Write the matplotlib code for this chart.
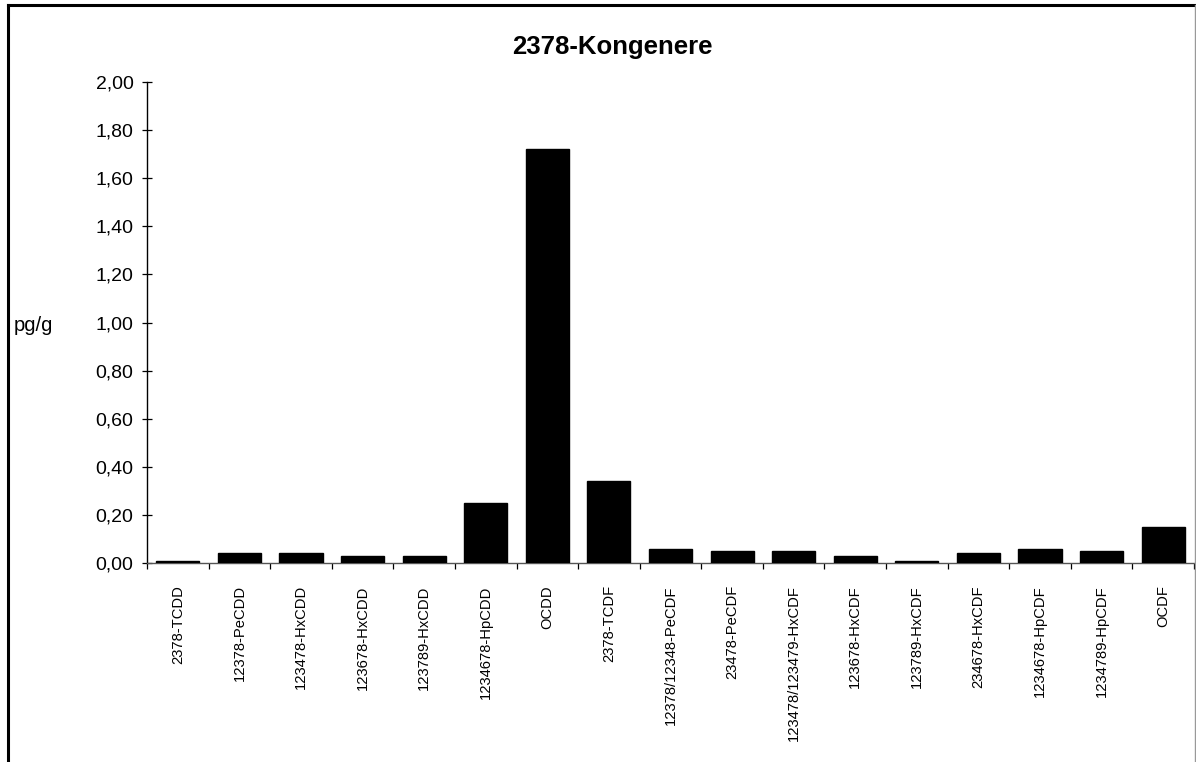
import matplotlib
matplotlib.use("Agg")
import matplotlib.pyplot as plt
from matplotlib.lines import Line2D
import numpy as np

plt.rcParams['font.family'] = ['Liberation Sans', 'DejaVu Sans']

categories = ["2378-TCDD", "12378-PeCDD", "123478-HxCDD", "123678-HxCDD",
              "123789-HxCDD", "1234678-HpCDD", "OCDD", "2378-TCDF",
              "12378/12348-PeCDF", "23478-PeCDF", "123478/123479-HxCDF",
              "123678-HxCDF", "123789-HxCDF", "234678-HxCDF",
              "1234678-HpCDF", "1234789-HpCDF", "OCDF"]
values = [0.01, 0.04, 0.04, 0.03, 0.03, 0.25, 1.72, 0.34,
          0.06, 0.05, 0.05, 0.03, 0.01, 0.04, 0.06, 0.05, 0.15]
yticks = [0.0, 0.2, 0.4, 0.6, 0.8, 1.0, 1.2, 1.4, 1.6, 1.8, 2.0]
ytick_labels = ["0,00", "0,20", "0,40", "0,60", "0,80", "1,00",
                "1,20", "1,40", "1,60", "1,80", "2,00"]
title = "2378-Kongenere"
ylabel = "pg/g"

W, H = 1196, 762
fig = plt.figure(figsize=(W / 100, H / 100), dpi=100)
ax = fig.add_axes([147 / W, 1 - 563 / H, (1194 - 147) / W, (563 - 82) / H])

x = np.arange(len(categories))
ax.bar(x, values, width=0.7, color='black', edgecolor='black', zorder=3)
ax.set_xlim(-0.5, len(categories) - 0.5)
ax.set_ylim(0, 2.0)

ax.set_yticks(yticks)
ax.set_yticklabels(ytick_labels, fontsize=14)
ax.tick_params(axis='y', direction='inout', length=7.5, width=0.9, pad=6, colors='black')

ax.set_xticks(x)
ax.set_xticklabels(categories, rotation=90, fontsize=10.6, va='top', ha='center')
ax.tick_params(axis='x', which='major', length=0, pad=16)
ax.set_xticks(np.arange(len(categories) + 1) - 0.5, minor=True)
ax.tick_params(axis='x', which='minor', direction='out', length=4, width=0.9, color='black')

for s in ['top', 'right']:
    ax.spines[s].set_visible(False)
ax.spines['left'].set_linewidth(1.0)
ax.spines['bottom'].set_linewidth(1.0)
ax.spines['bottom'].set_color('#555555')

fig.text(612 / W, 1 - 47 / H, title, ha='center', va='center',
         fontsize=18.5, fontweight='bold')
fig.text(14 / W, 1 - 325 / H, ylabel, ha='left', va='center', fontsize=14.5)

# outer chart frame
fig.add_artist(Line2D([7.5 / W, 7.5 / W], [0, 1 - 4.5 / H], color='black', lw=2.2,
                      transform=fig.transFigure))
fig.add_artist(Line2D([7.5 / W, 1], [1 - 4.5 / H, 1 - 4.5 / H], color='black', lw=2.2,
                      transform=fig.transFigure))
fig.add_artist(Line2D([1195 / W, 1195 / W], [0, 1 - 4.5 / H], color='#999999', lw=1,
                      transform=fig.transFigure))

fig.savefig("out.png", dpi=100)
